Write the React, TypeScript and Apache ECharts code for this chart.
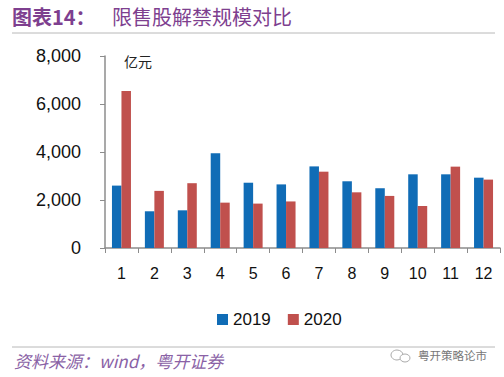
import React, { useEffect, useRef } from "react";
import * as echarts from "echarts";

const categories = ["1", "2", "3", "4", "5", "6", "7", "8", "9", "10", "11", "12"];
const values2019 = [2600, 1530, 1570, 3950, 2720, 2650, 3400, 2780, 2490, 3070, 3070, 2930];
const values2020 = [6540, 2380, 2700, 1890, 1850, 1940, 3180, 2320, 2170, 1750, 3390, 2850];
const yTicks = [0, 2000, 4000, 6000, 8000];
const seriesNames = ["2019", "2020"];
const titleLead = "图表14：";
const titleMain = "限售股解禁规模对比";
const unitLabel = "亿元";
const sourceText = "资料来源：wind，粤开证券";
const watermark = "粤开策略论市";

const LATIN = "'Liberation Sans', Arial, 'Noto Sans CJK SC', sans-serif";
const CJK = "'Noto Sans CJK SC', 'Liberation Sans', sans-serif";

export default function App() {
  const ref = useRef<HTMLDivElement>(null);
  useEffect(() => {
    if (!ref.current) return;
    const chart = echarts.init(ref.current, null, { renderer: "svg" });
    const fmt = (v: number) => v.toLocaleString("en-US");
    chart.setOption({
      animation: false,
      backgroundColor: "#ffffff",
      grid: { left: 105, right: 4, top: 56, bottom: 129, containLabel: false },
      legend: {
        data: seriesNames,
        left: 212,
        top: 306,
        itemWidth: 11,
        itemHeight: 11,
        itemGap: 17,
        icon: "rect",
        textStyle: { fontFamily: LATIN, fontSize: 17, color: "#111" },
      },
      xAxis: {
        type: "category",
        data: categories,
        axisLine: { lineStyle: { color: "#8c8c8c", width: 1.5 } },
        axisTick: { show: true, length: 5, lineStyle: { color: "#8c8c8c" } },
        axisLabel: { fontFamily: LATIN, fontSize: 16, color: "#111", margin: 17 },
      },
      yAxis: {
        type: "value",
        min: yTicks[0],
        max: yTicks[yTicks.length - 1],
        interval: yTicks[1] - yTicks[0],
        axisLine: { show: true, lineStyle: { color: "#8c8c8c", width: 1.5 } },
        axisTick: { show: true, length: 5, lineStyle: { color: "#8c8c8c" } },
        splitLine: { show: false },
        axisLabel: {
          fontFamily: LATIN,
          fontSize: 18,
          color: "#111",
          margin: 24,
          formatter: (v: number) => fmt(v),
        },
      },
      series: [
        {
          name: seriesNames[0],
          type: "bar",
          data: values2019,
          barWidth: 9.5,
          barGap: "0%",
          itemStyle: { color: "#106CB6" },
        },
        {
          name: seriesNames[1],
          type: "bar",
          data: values2020,
          barWidth: 9.5,
          barGap: "0%",
          itemStyle: { color: "#C0504D" },
        },
      ],
      graphic: [
        {
          type: "text",
          left: 12,
          top: 6,
          style: { text: titleLead, fontFamily: CJK, fontSize: 20, fontWeight: "bold", fill: "#7E3F8F" },
        },
        {
          type: "text",
          left: 112,
          top: 6,
          style: { text: titleMain, fontFamily: CJK, fontSize: 20, fill: "#7E3F8F" },
        },
        {
          type: "line",
          shape: { x1: 12, y1: 33, x2: 495, y2: 33 },
          style: { stroke: "#b8b8b8", lineWidth: 1 },
        },
        {
          type: "text",
          left: 124,
          top: 54,
          style: { text: unitLabel, fontFamily: CJK, fontSize: 14, fill: "#222" },
        },
        {
          type: "line",
          shape: { x1: 12, y1: 347, x2: 495, y2: 347 },
          style: { stroke: "#b8b8b8", lineWidth: 1 },
        },
        {
          type: "text",
          left: 14,
          top: 352,
          style: { text: sourceText, fontFamily: CJK, fontSize: 17, fontStyle: "italic", fill: "#8a62a6" },
        },
        {
          type: "ellipse",
          shape: { cx: 397, cy: 355, rx: 6, ry: 5 },
          style: { fill: "none", stroke: "#aaa", lineWidth: 1 },
        },
        {
          type: "ellipse",
          shape: { cx: 405, cy: 358, rx: 5, ry: 4 },
          style: { fill: "#fff", stroke: "#aaa", lineWidth: 1 },
        },
        {
          type: "text",
          left: 418,
          top: 349,
          style: { text: watermark, fontFamily: CJK, fontSize: 11.5, fill: "#777" },
        },
      ],
    });
    return () => chart.dispose();
  }, []);
  return <div ref={ref} style={{ width: 504, height: 377, position: "absolute", left: 0, top: 0 }} />;
}
